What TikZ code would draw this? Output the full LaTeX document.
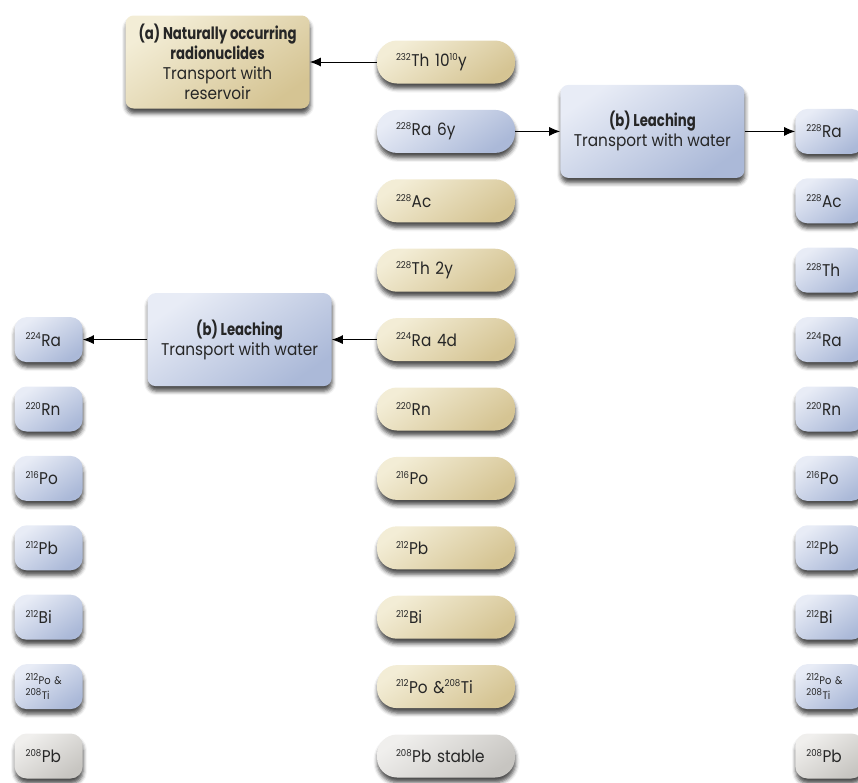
\documentclass[tikz,border=0pt]{standalone}
\usepackage{fontspec}
\setmainfont[FakeStretch=0.9]{Poppins}
\newfontfamily\condfont[FakeStretch=0.78]{Poppins}
\usetikzlibrary{positioning}
\usetikzlibrary{shadows.blur}
\usetikzlibrary{arrows.meta}

\definecolor{inkgray}{HTML}{262626}
\definecolor{tanlight}{HTML}{F3EDD6}
\definecolor{tandark}{HTML}{D5C493}
\definecolor{bluelight}{HTML}{E8ECF6}
\definecolor{bluedark}{HTML}{ABB9D8}
\definecolor{graylight}{HTML}{F0EFED}
\definecolor{graydark}{HTML}{C7C5C1}

\newcommand{\headfont}{\condfont\bfseries}
\newcommand{\supnum}[1]{\textsuperscript{\fontsize{9.5}{10}\selectfont #1}}
\newcommand{\iso}[2]{\supnum{#1}#2}

\begin{document}
\begin{tikzpicture}[
  x=1pt, y=-1pt,
  node distance=26pt and 45pt,
  every node/.style={text=inkgray, font=\fontsize{17}{20}\selectfont},
  basebox/.style={shading=axis,
    blur shadow={shadow xshift=0.5pt, shadow yshift=-5pt, shadow blur radius=4pt, shadow opacity=70}},
  tanfill/.style={top color=tanlight, bottom color=tandark, shading angle=35},
  bluefill/.style={top color=bluelight, bottom color=bluedark, shading angle=35},
  grayfill/.style={top color=graylight, bottom color=graydark, shading angle=35},
  pill/.style={basebox, rounded corners=20pt, minimum height=43pt, text width=100pt, inner xsep=19pt, align=left},
  chip/.style={basebox, rounded corners=12pt, minimum height=45pt, text width=46pt, inner xsep=11pt, align=left},
  infobox/.style={basebox, rounded corners=8pt, minimum width=184pt, minimum height=93pt, align=center},
  arr/.style={-{Latex[length=11pt,width=9pt]}, line width=1pt}
]
\useasboundingbox (0,0) rectangle (858,782);

% decay chain in the middle
\node[pill,tanfill] (th232) at (446,62) {\iso{232}{Th 10\supnum{10}y}};
\node[pill,bluefill,below=of th232] (ra228) {\iso{228}{Ra 6y}};
\node[pill,tanfill,below=of ra228] (ac228) {\iso{228}{Ac}};
\node[pill,tanfill,below=of ac228] (th228) {\iso{228}{Th 2y}};
\node[pill,tanfill,below=of th228] (ra224) {\iso{224}{Ra 4d}};
\node[pill,tanfill,below=of ra224] (rn220) {\iso{220}{Rn}};
\node[pill,tanfill,below=of rn220] (po216) {\iso{216}{Po}};
\node[pill,tanfill,below=of po216] (pb212) {\iso{212}{Pb}};
\node[pill,tanfill,below=of pb212] (bi212) {\iso{212}{Bi}};
\node[pill,tanfill,below=of bi212] (po212) {\iso{212}{Po \&\supnum{208}Ti}};
\node[pill,grayfill,below=of po212] (pb208) {\iso{208}{Pb stable}};

% transport boxes
\node[infobox,tanfill,left=67pt of th232] (natural) {{\headfont (a) Naturally occurring}\\{\headfont radionuclides}\\Transport with\\reservoir};
\node[infobox,bluefill,right=of ra228] (leachR) {{\headfont (b) Leaching}\\Transport with water};
\node[infobox,bluefill,left=of ra224] (leachL) {{\headfont (b) Leaching}\\Transport with water};

% chain leached with 228Ra
\node[chip,bluefill,right=280pt of ra228] (rra228) {\iso{228}{Ra}};
\node[chip,bluefill,below=24pt of rra228] (rac228) {\iso{228}{Ac}};
\node[chip,bluefill,below=24pt of rac228] (rth228) {\iso{228}{Th}};
\node[chip,bluefill,below=24pt of rth228] (rra224) {\iso{224}{Ra}};
\node[chip,bluefill,below=24pt of rra224] (rrn220) {\iso{220}{Rn}};
\node[chip,bluefill,below=24pt of rrn220] (rpo216) {\iso{216}{Po}};
\node[chip,bluefill,below=24pt of rpo216] (rpb212) {\iso{212}{Pb}};
\node[chip,bluefill,below=24pt of rpb212] (rbi212) {\iso{212}{Bi}};
\node[chip,bluefill,below=24pt of rbi212,font=\fontsize{11}{15}\selectfont] (rpo212) {\iso{212}{Po \&}\\\iso{208}{Ti}};
\node[chip,grayfill,below=24pt of rpo212] (rpb208) {\iso{208}{Pb}};

% chain leached with 224Ra
\node[chip,bluefill,left=294pt of ra224] (lra224) {\iso{224}{Ra}};
\node[chip,bluefill,below=24pt of lra224] (lrn220) {\iso{220}{Rn}};
\node[chip,bluefill,below=24pt of lrn220] (lpo216) {\iso{216}{Po}};
\node[chip,bluefill,below=24pt of lpo216] (lpb212) {\iso{212}{Pb}};
\node[chip,bluefill,below=24pt of lpb212] (lbi212) {\iso{212}{Bi}};
\node[chip,bluefill,below=24pt of lbi212,font=\fontsize{11}{15}\selectfont] (lpo212) {\iso{212}{Po \&}\\\iso{208}{Ti}};
\node[chip,grayfill,below=24pt of lpo212] (lpb208) {\iso{208}{Pb}};

\path (th232) edge[arr] (natural)
(ra228) edge[arr] (leachR)
(leachR) edge[arr] (rra228)
(ra224) edge[arr] (leachL)
(leachL) edge[arr] (lra224)
;

\end{tikzpicture}
\end{document}
